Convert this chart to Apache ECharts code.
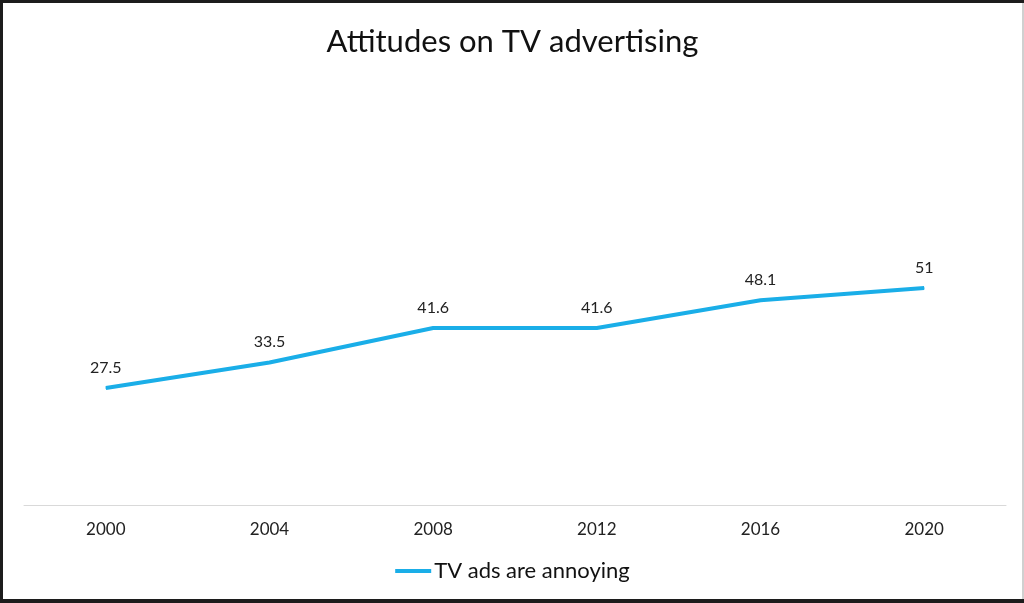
<!DOCTYPE html>
<html>
<head>
<meta charset="utf-8">
<script src="https://cdn.jsdelivr.net/npm/echarts@6/dist/echarts.min.js"></script>
<style>
html,body{margin:0;padding:0;width:1024px;height:603px;background:#1c1c1c;overflow:hidden;}
#chart{position:absolute;left:3px;top:3px;width:1019px;height:596px;background:#fff;border-right:2px solid #d0d0d0;}
</style>
</head>
<body>
<div id="chart"></div>
<script>
const categories = ['2000', '2004', '2008', '2012', '2016', '2020'];
const annoying = [27.5, 33.5, 41.6, 41.6, 48.1, 51];
const seriesName = 'TV ads are annoying';
const titleText = 'Attitudes on TV advertising';

const chart = echarts.init(document.getElementById('chart'));
const font = 'Lato, "Open Sans", sans-serif';
chart.setOption({
  animation: false,
  backgroundColor: '#ffffff',
  title: {
    text: titleText,
    left: 'center',
    top: 18,
    textStyle: {fontFamily: font, fontSize: 31, fontWeight: 'normal', color: '#111'}
  },
  legend: {
    data: [seriesName],
    bottom: 12,
    left: 'center',
    icon: 'rect',
    itemWidth: 36,
    itemHeight: 4,
    itemGap: 4,
    textStyle: {fontFamily: font, fontSize: 22, color: '#111', padding: [0,0,0,-2]}
  },
  grid: {left: 21, top: 76.5, width: 982, height: 425.5, containLabel: false},
  xAxis: {
    type: 'category',
    data: categories,
    boundaryGap: true,
    axisLine: {lineStyle: {color: '#d9d9d9', width: 1}},
    axisTick: {show: false},
    axisLabel: {fontFamily: font, fontSize: 17, color: '#222', margin: 16}
  },
  yAxis: {
    type: 'value', min: 0, max: 100,
    show: false,
    splitLine: {show: false}
  },
  series: [{
    name: seriesName,
    type: 'line',
    data: annoying,
    symbol: 'circle',
    symbolSize: 1,
    color: '#1aaee8',
    lineStyle: {width: 4, color: '#1aaee8'},
    label: {show: true, position: 'top', distance: 12, fontFamily: font, fontSize: 16, color: '#222'}
  }]
});
</script>
</body>
</html>
